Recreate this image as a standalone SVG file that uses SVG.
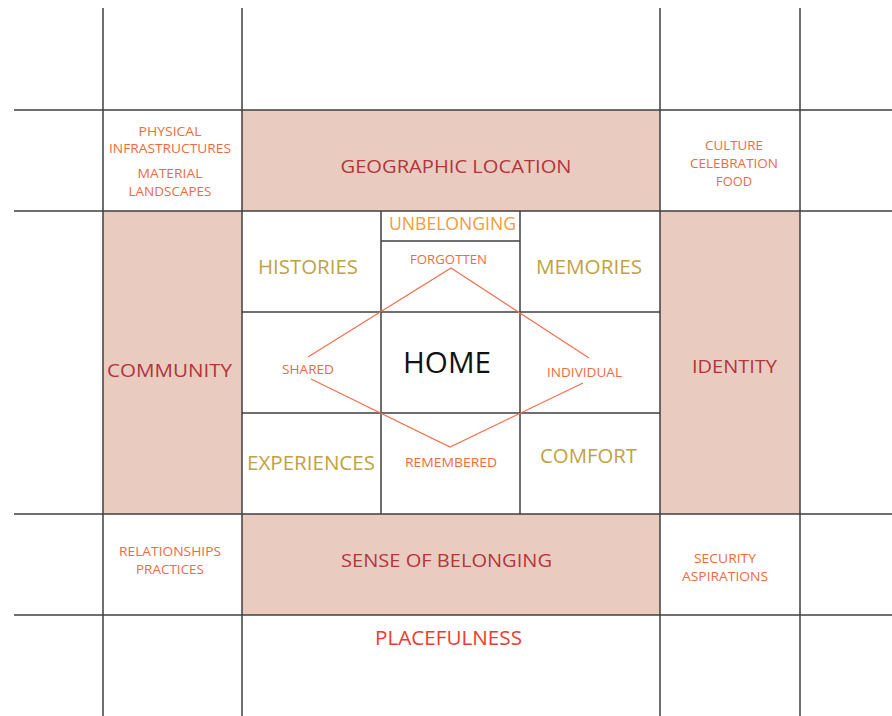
<svg xmlns="http://www.w3.org/2000/svg" width="892" height="716" viewBox="0 0 892 716">
  <style>
    text { font-family: "Open Sans", "Noto Sans", "DejaVu Sans", sans-serif; text-anchor: middle; }
    .band { fill: #E9CCBF; stroke: none; }
    .grid { stroke: #3f3f3f; stroke-width: 1.5; fill: none; }
    .major { fill: #B2353D; font-size: 18.5px; }
    .note { fill: #EE6B42; font-size: 13.5px; }
    .theme { fill: #BFA244; font-size: 19.5px; }
    .unb { fill: #F59A3B; font-size: 17.5px; }
    .home { fill: #111111; font-size: 29px; }
    .place { fill: #EE3B2F; font-size: 20px; }
    .link { stroke: #F0704E; stroke-width: 1.2; fill: none; }
  </style>

  <rect width="892" height="716" fill="#ffffff"/>

  <!-- shaded frames -->
  <rect class="band" x="242" y="110" width="418" height="101"/>
  <rect class="band" x="103" y="211" width="139" height="303"/>
  <rect class="band" x="660" y="211" width="140" height="303"/>
  <rect class="band" x="242" y="514" width="418" height="101"/>

  <!-- grid -->
  <g id="grid" class="grid">
    <line x1="103" y1="8" x2="103" y2="716"/>
    <line x1="242" y1="8" x2="242" y2="716"/>
    <line x1="660" y1="8" x2="660" y2="716"/>
    <line x1="800" y1="8" x2="800" y2="716"/>
    <line x1="14" y1="110" x2="892" y2="110"/>
    <line x1="14" y1="211" x2="892" y2="211"/>
    <line x1="14" y1="514" x2="892" y2="514"/>
    <line x1="14" y1="615" x2="892" y2="615"/>
    <line x1="381" y1="211" x2="381" y2="514"/>
    <line x1="520" y1="211" x2="520" y2="514"/>
    <line x1="242" y1="312" x2="660" y2="312"/>
    <line x1="242" y1="413" x2="660" y2="413"/>
    <line x1="381" y1="241" x2="520" y2="241"/>
  </g>

  <!-- diamond -->
  <g id="connectors">
    <path class="link" d="M308,357 L451,268 L589,358"/>
    <path class="link" d="M311,379 L450,447 L583,383"/>
  </g>

  <g id="physical">
    <text class="note" x="170" y="136" textLength="63" lengthAdjust="spacingAndGlyphs">PHYSICAL</text>
    <text class="note" x="170" y="153" textLength="122" lengthAdjust="spacingAndGlyphs">INFRASTRUCTURES</text>
    <text class="note" x="170" y="178" textLength="65" lengthAdjust="spacingAndGlyphs">MATERIAL</text>
    <text class="note" x="170" y="196" textLength="83" lengthAdjust="spacingAndGlyphs">LANDSCAPES</text>
  </g>
  <g id="geographic-location">
    <text class="major" x="456" y="173" textLength="231" lengthAdjust="spacingAndGlyphs">GEOGRAPHIC LOCATION</text>
  </g>
  <g id="culture">
    <text class="note" x="734" y="150" textLength="58" lengthAdjust="spacingAndGlyphs">CULTURE</text>
    <text class="note" x="734" y="168" textLength="88" lengthAdjust="spacingAndGlyphs">CELEBRATION</text>
    <text class="note" x="734" y="186" textLength="36" lengthAdjust="spacingAndGlyphs">FOOD</text>
  </g>
  <g id="community">
    <text class="major" x="169.5" y="377" textLength="125" lengthAdjust="spacingAndGlyphs">COMMUNITY</text>
  </g>
  <g id="identity">
    <text class="major" x="734.5" y="373" textLength="85" lengthAdjust="spacingAndGlyphs">IDENTITY</text>
  </g>
  <g id="histories">
    <text class="theme" x="308" y="274" textLength="100" lengthAdjust="spacingAndGlyphs">HISTORIES</text>
  </g>
  <g id="unbelonging">
    <text class="unb" x="452.5" y="230" textLength="127" lengthAdjust="spacingAndGlyphs">UNBELONGING</text>
  </g>
  <g id="forgotten">
    <text class="note" x="448.5" y="264" textLength="77" lengthAdjust="spacingAndGlyphs">FORGOTTEN</text>
  </g>
  <g id="memories">
    <text class="theme" x="589" y="274" textLength="106" lengthAdjust="spacingAndGlyphs">MEMORIES</text>
  </g>
  <g id="shared">
    <text class="note" x="308" y="374" textLength="52" lengthAdjust="spacingAndGlyphs">SHARED</text>
  </g>
  <g id="home">
    <text class="home" x="447" y="373" textLength="88" lengthAdjust="spacingAndGlyphs">HOME</text>
  </g>
  <g id="individual">
    <text class="note" x="584.5" y="377" textLength="75" lengthAdjust="spacingAndGlyphs">INDIVIDUAL</text>
  </g>
  <g id="experiences">
    <text class="theme" x="311" y="470" textLength="128" lengthAdjust="spacingAndGlyphs">EXPERIENCES</text>
  </g>
  <g id="remembered">
    <text class="note" x="451" y="467" textLength="92" lengthAdjust="spacingAndGlyphs">REMEMBERED</text>
  </g>
  <g id="comfort">
    <text class="theme" x="588.5" y="463" textLength="97" lengthAdjust="spacingAndGlyphs">COMFORT</text>
  </g>
  <g id="relationships">
    <text class="note" x="170" y="556" textLength="102" lengthAdjust="spacingAndGlyphs">RELATIONSHIPS</text>
    <text class="note" x="170" y="574" textLength="68" lengthAdjust="spacingAndGlyphs">PRACTICES</text>
  </g>
  <g id="sense-of-belonging">
    <text class="major" x="446.5" y="567" textLength="211" lengthAdjust="spacingAndGlyphs">SENSE OF BELONGING</text>
  </g>
  <g id="security">
    <text class="note" x="725" y="563" textLength="62" lengthAdjust="spacingAndGlyphs">SECURITY</text>
    <text class="note" x="725" y="581" textLength="86" lengthAdjust="spacingAndGlyphs">ASPIRATIONS</text>
  </g>
  <g id="placefulness">
    <text class="place" x="448.5" y="645" textLength="147" lengthAdjust="spacingAndGlyphs">PLACEFULNESS</text>
  </g>
</svg>
